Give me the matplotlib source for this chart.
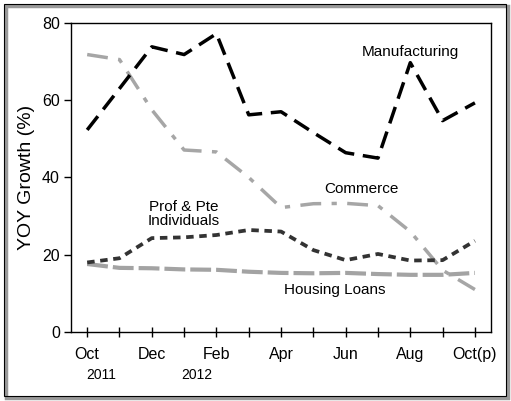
import numpy as np
import matplotlib.pyplot as plt
from matplotlib.patches import Rectangle

plt.rcParams['font.family'] = ['Liberation Sans', 'DejaVu Sans']

months = ['Oct', 'Nov', 'Dec', 'Jan', 'Feb', 'Mar', 'Apr', 'May', 'Jun', 'Jul', 'Aug', 'Sep', 'Oct(p)']
tick_labels = ['Oct', 'Dec', 'Feb', 'Apr', 'Jun', 'Aug', 'Oct(p)']

manufacturing = [52.3, 63.0, 73.8, 71.8, 77.2, 56.2, 57.0, 51.6, 46.4, 45.0, 69.7, 54.7, 59.3]
commerce = [71.8, 70.5, 57.5, 47.1, 46.6, 40.0, 32.2, 33.2, 33.3, 32.7, 26.0, 16.0, 11.0]
prof_pte = [18.0, 19.1, 24.3, 24.5, 25.1, 26.4, 26.0, 21.2, 18.6, 20.2, 18.5, 18.6, 23.6]
housing = [17.6, 16.6, 16.5, 16.2, 16.1, 15.6, 15.3, 15.2, 15.3, 15.0, 14.8, 14.8, 15.3]

fig = plt.figure(figsize=(5.11, 4.01), dpi=100)
ax = fig.add_axes([0.139, 0.172, 0.822, 0.771])

x = np.arange(len(months))
ax.plot(x, housing, color='#a3a3a3', lw=3, dashes=(5, 1.2))
ax.plot(x, commerce, color='#a6a6a6', lw=2.5, dashes=(6, 3, 1.5, 3))
ax.plot(x, prof_pte, color='#333333', lw=2.7, dashes=(2, 1.5))
ax.plot(x, manufacturing, color='black', lw=2.5, dashes=(5, 2.5))

ax.set_xlim(-0.5, 12.5)
ax.set_ylim(0, 80)
ax.set_yticks([0, 20, 40, 60, 80])
ax.set_xticks(x, minor=True)
ax.set_xticks(x[::2])
ax.set_xticklabels(tick_labels)
ax.tick_params(axis='x', which='both', direction='inout', length=7, width=1, pad=7)
ax.tick_params(axis='y', direction='out', length=5, width=1, pad=3)
ax.tick_params(labelsize=11.5)
for s in ax.spines.values():
    s.set_linewidth(1)
ax.set_ylabel('YOY Growth (%)', fontsize=14, labelpad=5)

ax.text(0.43, -11.2, '2011', ha='center', va='center', fontsize=10)
ax.text(3.38, -11.2, '2012', ha='center', va='center', fontsize=10)

ax.text(10.0, 72.5, 'Manufacturing', ha='center', va='center', fontsize=11)
ax.text(8.5, 37.0, 'Commerce', ha='center', va='center', fontsize=11)
ax.text(3.0, 30.5, 'Prof & Pte\nIndividuals', ha='center', va='center', fontsize=11, linespacing=1.0)
ax.text(7.65, 11.0, 'Housing Loans', ha='center', va='center', fontsize=11)

fig.patches.append(Rectangle((0.011, 0.008), 0.983, 0.978, transform=fig.transFigure,
                             fill=False, edgecolor='#999999', lw=2.5, zorder=0))
fig.patches.append(Rectangle((0.008, 0.012), 0.983, 0.978, transform=fig.transFigure,
                             fill=False, edgecolor='black', lw=0.8, zorder=1))

fig.savefig('out.png', dpi=100)
